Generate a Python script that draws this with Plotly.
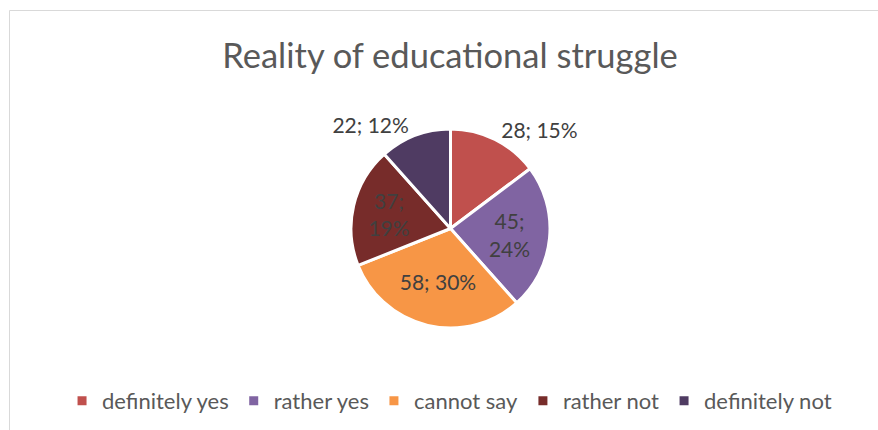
import plotly.graph_objects as go

categories = ["definitely yes", "rather yes", "cannot say", "rather not", "definitely not"]
values = [28, 45, 58, 37, 22]
percents = [15, 24, 30, 19, 12]
colors = ["#C0504D", "#8064A2", "#F79646", "#772C2A", "#4F3B62"]
positions = ["outside", "inside", "inside", "inside", "outside"]
label_break = [" ", "<br>", " ", "<br>", " "]

W, H = 878, 430
labels_text = [f"{v};{b}{p}%" for v, p, b in zip(values, percents, label_break)]

FONT = "Lato"
GREY = "#595959"
LABEL = "#404040"

fig = go.Figure(go.Pie(
    labels=categories,
    values=values,
    text=labels_text,
    textinfo="text",
    textposition=positions,
    insidetextorientation="horizontal",
    sort=False,
    direction="clockwise",
    rotation=0,
    marker=dict(colors=colors, line=dict(color="white", width=3)),
    textfont=dict(family=FONT, size=21, color=LABEL),
    insidetextfont=dict(family=FONT, size=21, color=LABEL),
    outsidetextfont=dict(family=FONT, size=21, color=LABEL),
    domain=dict(x=[351 / W, 550 / W], y=[1 - 328 / H, 1 - 129 / H]),
    hoverinfo="label+value+percent",
))

fig.update_layout(
    width=W, height=H,
    margin=dict(l=0, r=0, t=0, b=0),
    paper_bgcolor="white",
    plot_bgcolor="white",
    title=dict(text="Reality of educational struggle", x=450 / W, xanchor="center",
               y=1 - 56 / H, yanchor="middle",
               font=dict(family=FONT, size=34.5, color=GREY)),
    legend=dict(orientation="h", x=0.512, xanchor="center", y=1 - 401 / H, yanchor="middle",
                font=dict(family=FONT, size=22, color=GREY), traceorder="normal"),
    shapes=[dict(type="rect", xref="paper", yref="paper",
                 x0=9.5 / W, x1=1.02, y0=-0.02, y1=1 - 10.5 / H,
                 line=dict(color="#D9D9D9", width=1), fillcolor="rgba(0,0,0,0)", layer="below")],
)

fig.write_html("out.html")
